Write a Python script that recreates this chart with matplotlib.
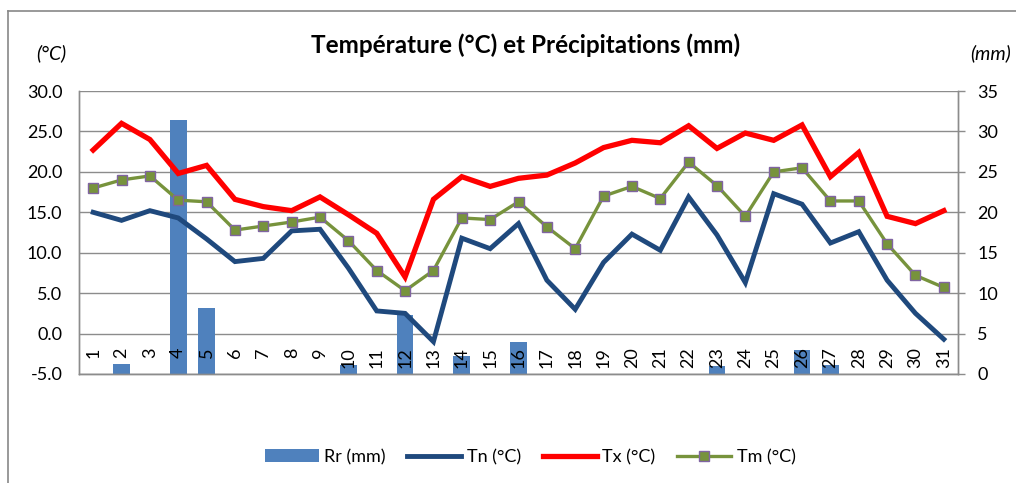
import matplotlib
matplotlib.use("Agg")
import matplotlib.pyplot as plt
from matplotlib.lines import Line2D
import numpy as np

plt.rcParams['font.family'] = ['Lato', 'DejaVu Sans']

days = [str(d) for d in range(1, 32)]
rr = [0, 1.2, 0, 31.4, 8.2, 0, 0, 0, 0, 1.1, 0, 7.3, 0, 2.2, 0, 4.0,
      0, 0, 0, 0, 0, 0, 1.0, 0, 0, 3.0, 1.1, 0, 0, 0, 0]
tn = [15.0, 14.0, 15.2, 14.3, 11.7, 8.9, 9.3, 12.7, 12.9, 8.1, 2.8, 2.5, -1.0,
      11.8, 10.5, 13.6, 6.6, 3.0, 8.8, 12.3, 10.3, 16.9, 12.2, 6.3, 17.3, 16.0,
      11.2, 12.6, 6.6, 2.5, -0.7]
tx = [22.7, 26.0, 24.0, 19.8, 20.8, 16.6, 15.7, 15.2, 16.9, 14.7, 12.4, 7.0, 16.6,
      19.4, 18.2, 19.2, 19.6, 21.1, 23.0, 23.9, 23.6, 25.7, 22.9, 24.8, 23.9, 25.8,
      19.4, 22.4, 14.5, 13.6, 15.2]
tm = [18.0, 19.0, 19.5, 16.5, 16.3, 12.8, 13.3, 13.8, 14.4, 11.5, 7.8, 5.3, 7.8,
      14.3, 14.1, 16.3, 13.2, 10.5, 17.0, 18.2, 16.7, 21.2, 18.3, 14.5, 20.0, 20.5,
      16.4, 16.4, 11.1, 7.2, 5.7]

title = "Température (°C) et Précipitations (mm)"
left_unit = "(°C)"
right_unit = "(mm)"
labels = ["Rr (mm)", "Tn (°C)", "Tx (°C)", "Tm (°C)"]

c_bar = "#4F81BD"
c_tn = "#1F497D"
c_tx = "#FF0000"
c_tm = "#77933C"
c_tm_edge = "#8064A2"
c_grid = "#8C8C8C"

W, H = 1016, 483
fig = plt.figure(figsize=(W / 100, H / 100), dpi=100)
L, R, T, B = 79, 958, 91, 374
axL = fig.add_axes([L / W, 1 - B / H, (R - L) / W, (B - T) / H])
axR = axL.twinx()

x = np.arange(len(days))

# bars on right axis (below)
axR.bar(x, rr, width=0.59, color=c_bar, zorder=2, label=labels[0])
axR.set_ylim(0, 35)
axR.set_yticks(np.arange(0, 36, 5))
axR.grid(axis='y', color=c_grid, linewidth=1.0)
axR.set_axisbelow(True)
axR.tick_params(axis='y', direction='out', length=5, width=1, color=c_grid,
                labelsize=13, pad=9)

# lines on left axis (above)
axL.set_zorder(axR.get_zorder() + 1)
axL.patch.set_visible(False)
axL.plot(x, tn, color=c_tn, linewidth=3.5, solid_joinstyle='miter', label=labels[1])
axL.plot(x, tx, color=c_tx, linewidth=3.8, solid_joinstyle='miter', label=labels[2])
axL.plot(x, tm, color=c_tm, linewidth=2.4, marker='s', markersize=7.5,
         markerfacecolor=c_tm, markeredgecolor=c_tm_edge, markeredgewidth=1.0,
         label=labels[3])
axL.set_ylim(-5, 30)
axL.set_yticks(np.arange(-5, 31, 5))
axL.set_yticklabels([f"{v:.1f}" for v in np.arange(-5, 31, 5)])
axL.tick_params(axis='y', length=0, labelsize=13, pad=12)
axL.set_xlim(-0.5, len(days) - 0.5)
axL.set_xticks([])
axR.set_xticks([])

for i, d in enumerate(days):
    axL.annotate(d, xy=(i, 0), xytext=(0, -10), textcoords='offset points',
                 rotation=90, ha='center', va='top', fontsize=13)

for ax in (axL, axR):
    ax.spines['top'].set_visible(False)
    for s in ('left', 'right', 'bottom'):
        ax.spines[s].set_color(c_grid)
        ax.spines[s].set_linewidth(1.0)

fig.text(526 / W, 1 - 45 / H, title, ha='center', va='center',
         fontsize=17.5, fontweight='bold')
fig.text(51 / W, 1 - 53 / H, left_unit, ha='center', va='center',
         fontsize=14, style='italic')
fig.text(1011 / W, 1 - 53 / H, right_unit, ha='right', va='center',
         fontsize=14, style='italic')

hb, lb = axR.get_legend_handles_labels()
hl, ll = axL.get_legend_handles_labels()
fig.legend(hb + hl, lb + ll, loc='center', bbox_to_anchor=(530 / W, 1 - 457 / H),
           ncol=4, frameon=False, fontsize=13, handlelength=3.0,
           columnspacing=1.2, handletextpad=0.3)

# chart frame
fig.add_artist(Line2D([8 / W, 1], [1 - 11 / H, 1 - 11 / H], color="#888888", linewidth=1.2))
fig.add_artist(Line2D([8 / W, 8 / W], [1 - 11 / H, 0], color="#888888", linewidth=1.2))

fig.savefig("out.png", dpi=100)
